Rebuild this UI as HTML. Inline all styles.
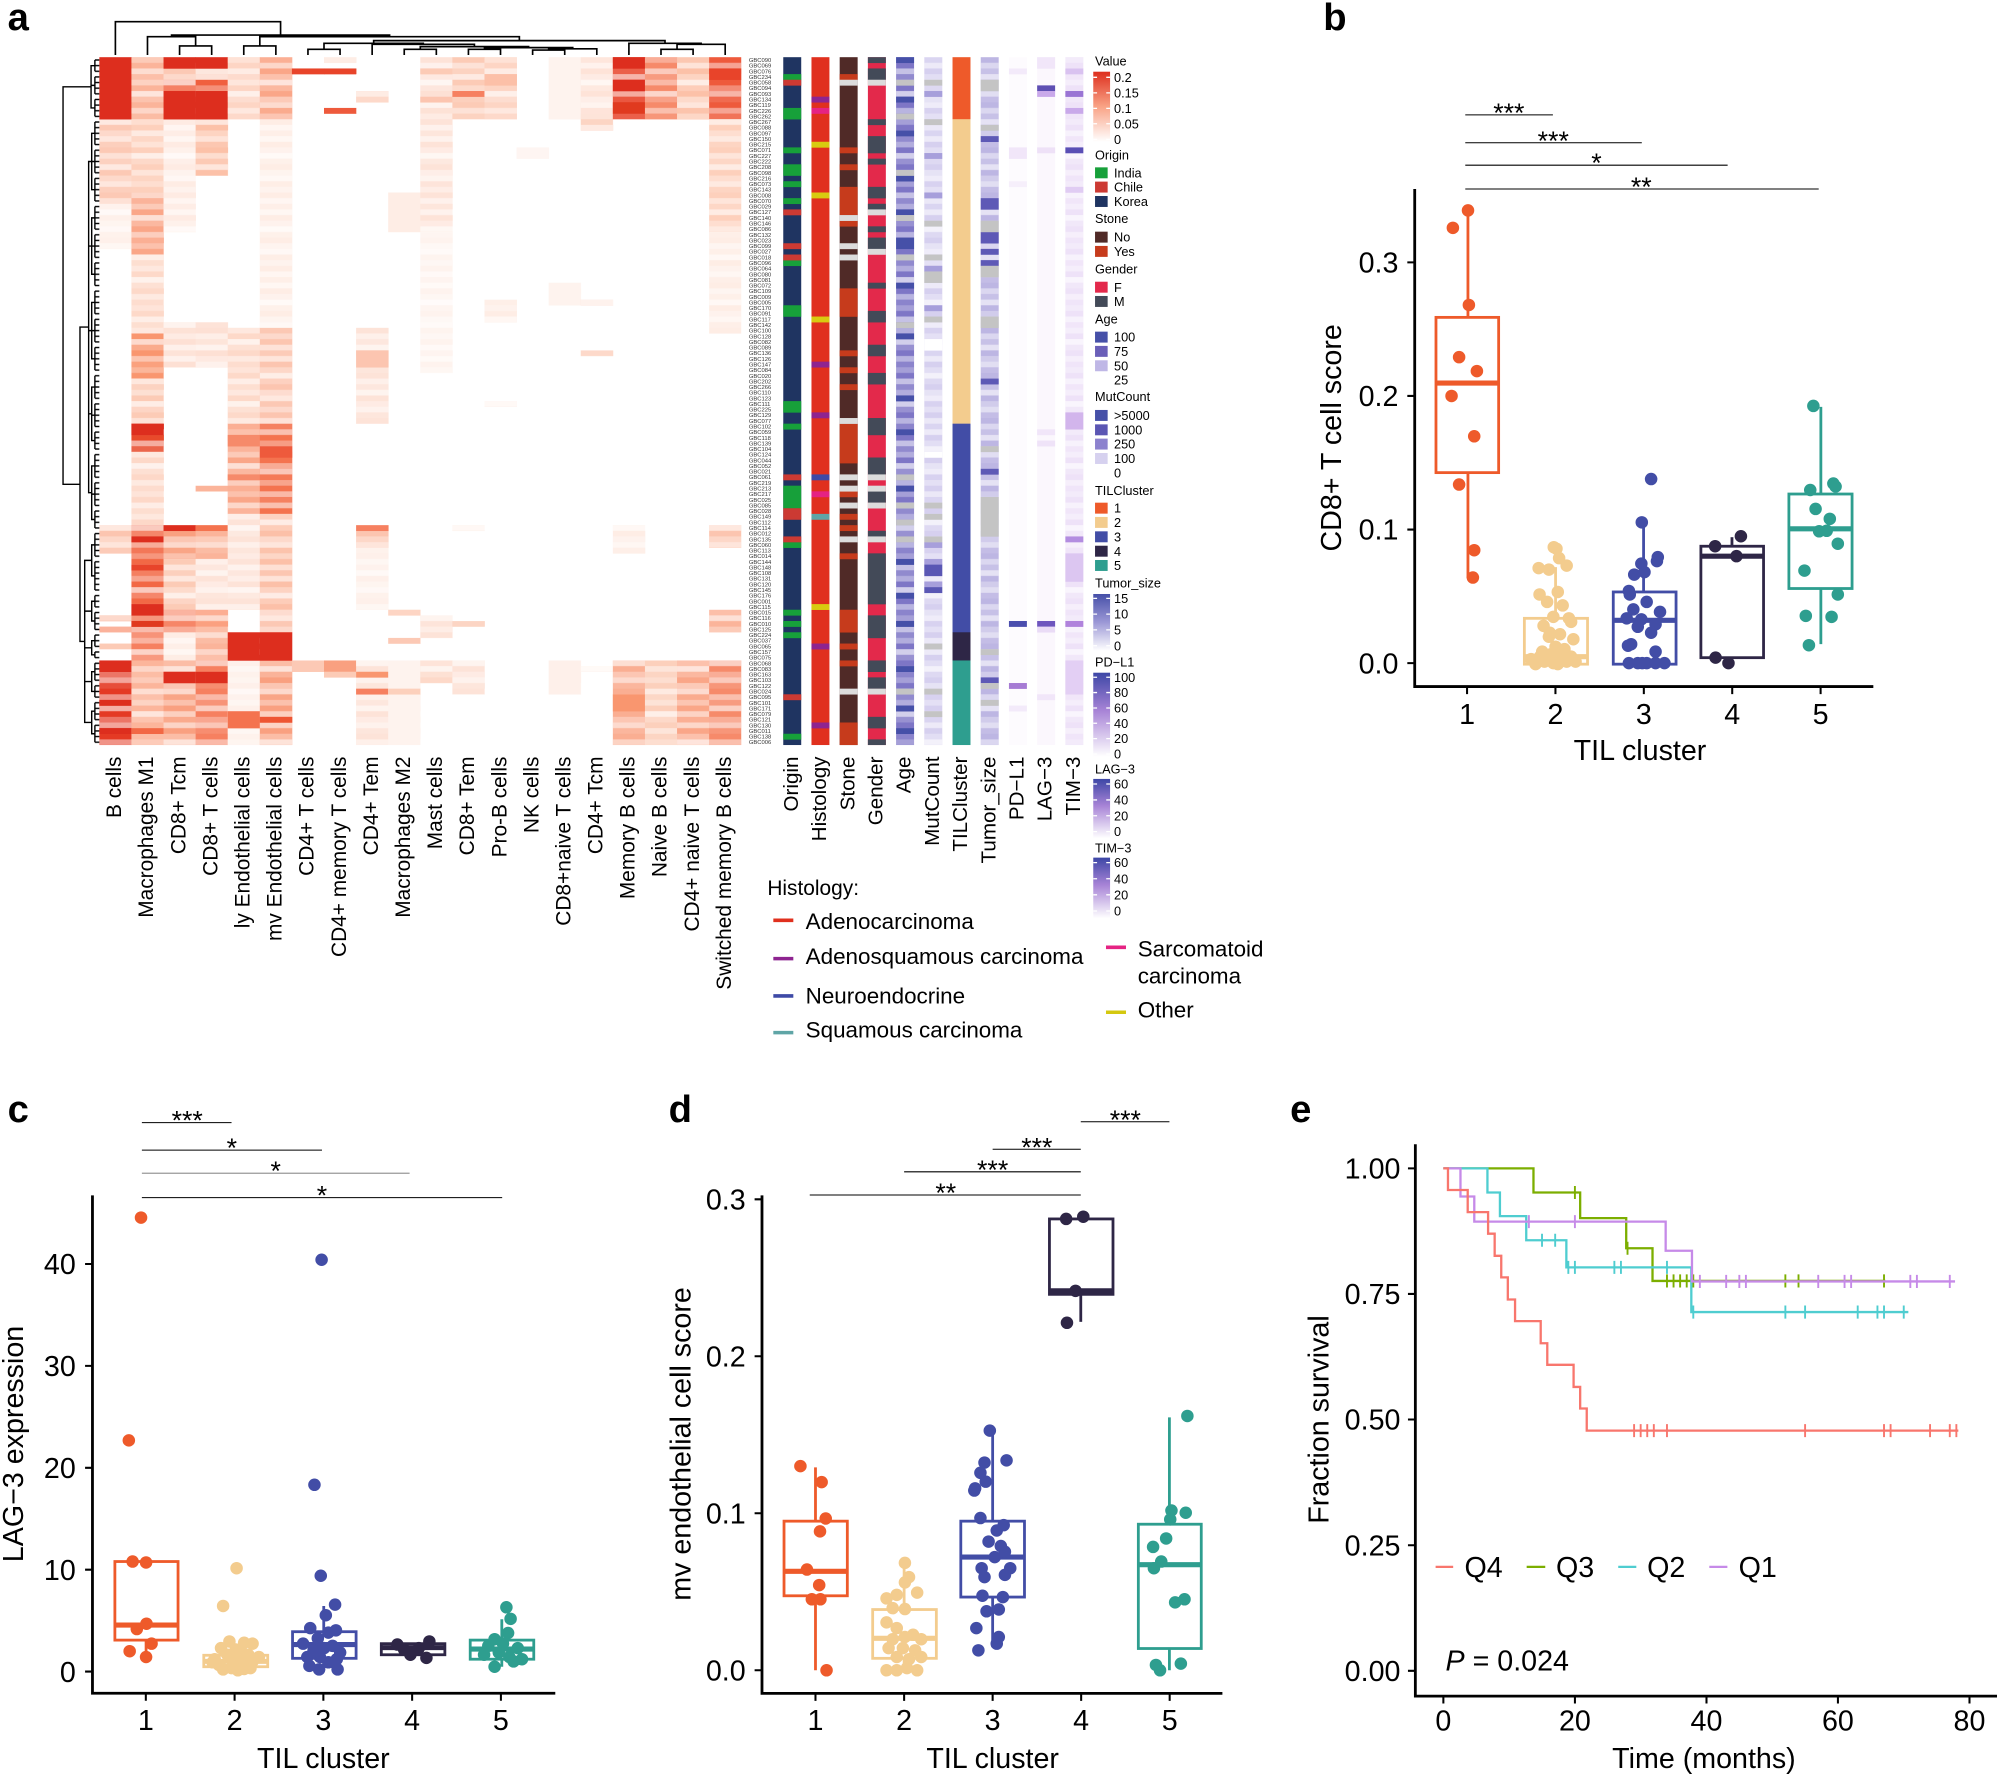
<!DOCTYPE html>
<html><head><meta charset="utf-8">
<style>
html,body{margin:0;padding:0;background:#fff;}
svg{display:block;}
svg text{font-family:"Liberation Sans",Arial,sans-serif;fill:#000;}
.pt{fill:none;stroke-linecap:round;stroke-width:12.5px;}
.km{fill:none;stroke-width:2.3px;}
.kc{fill:none;stroke-width:1.9px;}
</style></head>
<body>
<svg xmlns="http://www.w3.org/2000/svg" width="1997" height="1776" viewBox="0 0 1568 1394.5" preserveAspectRatio="none">
<defs>
<linearGradient id="gVal" x1="0" y1="1" x2="0" y2="0"><stop offset="0" stop-color="#ffffff"/><stop offset="0.5" stop-color="#F9A386"/><stop offset="1" stop-color="#DD2F1E"/></linearGradient>
<linearGradient id="gTum" x1="0" y1="1" x2="0" y2="0"><stop offset="0" stop-color="#ffffff"/><stop offset="0.5" stop-color="#9C98D6"/><stop offset="1" stop-color="#4650A8"/></linearGradient>
<linearGradient id="gPur" x1="0" y1="1" x2="0" y2="0"><stop offset="0" stop-color="#ffffff"/><stop offset="0.55" stop-color="#A783D6"/><stop offset="1" stop-color="#3D47A6"/></linearGradient>
<pattern id="tA" patternUnits="userSpaceOnUse" x="0" y="44.9" width="30" height="35.416">
<rect y="4.427" width="30" height="4.43" fill="#fff" fill-opacity="0.45"/><rect y="8.854" width="30" height="4.43" fill="#fff" fill-opacity="0.15"/><rect y="13.281" width="30" height="4.43" fill="#fff" fill-opacity="0.6"/><rect y="22.135" width="30" height="4.43" fill="#fff" fill-opacity="0.3"/><rect y="26.562" width="30" height="4.43" fill="#fff" fill-opacity="0.55"/><rect y="30.989" width="30" height="4.43" fill="#fff" fill-opacity="0.1"/>
</pattern>
<pattern id="tB" patternUnits="userSpaceOnUse" x="0" y="44.9" width="30" height="48.697">
<rect y="0" width="30" height="4.43" fill="#fff" fill-opacity="0.3"/><rect y="8.854" width="30" height="4.43" fill="#fff" fill-opacity="0.55"/><rect y="13.281" width="30" height="4.43" fill="#fff" fill-opacity="0.15"/><rect y="17.708" width="30" height="4.43" fill="#fff" fill-opacity="0.4"/><rect y="26.562" width="30" height="4.43" fill="#fff" fill-opacity="0.65"/><rect y="30.989" width="30" height="4.43" fill="#fff" fill-opacity="0.2"/><rect y="39.843" width="30" height="4.43" fill="#fff" fill-opacity="0.45"/><rect y="44.27" width="30" height="4.43" fill="#fff" fill-opacity="0.1"/>
</pattern>
<pattern id="tC" patternUnits="userSpaceOnUse" x="0" y="44.9" width="30" height="57.551">
<rect y="0" width="30" height="4.43" fill="#fff" fill-opacity="0.1"/><rect y="4.427" width="30" height="4.43" fill="#fff" fill-opacity="0.55"/><rect y="13.281" width="30" height="4.43" fill="#fff" fill-opacity="0.3"/><rect y="17.708" width="30" height="4.43" fill="#fff" fill-opacity="0.7"/><rect y="22.135" width="30" height="4.43" fill="#fff" fill-opacity="0.2"/><rect y="30.989" width="30" height="4.43" fill="#fff" fill-opacity="0.4"/><rect y="35.416" width="30" height="4.43" fill="#fff" fill-opacity="0.6"/><rect y="39.843" width="30" height="4.43" fill="#fff" fill-opacity="0.05"/><rect y="44.27" width="30" height="4.43" fill="#fff" fill-opacity="0.35"/><rect y="53.124" width="30" height="4.43" fill="#fff" fill-opacity="0.5"/>
</pattern>
<pattern id="leaf" patternUnits="userSpaceOnUse" x="0" y="44.9" width="10" height="4.427">
<rect x="0" y="1.66" width="10" height="1.1" fill="#000"/>
</pattern>
</defs>
<rect x="0" y="0" width="1568" height="1394.5" fill="#fff"/>

<!-- panel letters -->
<g font-size="30" font-weight="bold">
<text x="6" y="23.5">a</text>
<text x="1039" y="23.5">b</text>
<text x="6" y="881">c</text>
<text x="525" y="881">d</text>
<text x="1013" y="881">e</text>
</g>

<!-- column dendrogram -->
<g stroke="#000" stroke-width="1.3" fill="none">
<path d="M141,43.2V36.1H166.2V43.2 M115.8,43.2V28.8H153.6V36.1 M191.4,43.2V36.1H216.6V43.2 M241.8,43.2V38.7H267V43.2 M317.4,43.2V38.7H342.6V43.2 M367.8,43.2V38.7H393V43.2 M418.2,43.2V39.3H443.4V43.2 M430.8,39.3V38.3H468.6V43.2 M380.4,38.7V37.4H449.7V38.3 M330,38.7V36.6H415.05V37.4 M292.2,43.2V34.8H372.5V36.6 M254.4,38.7V34H332.35V34.8 M519,43.2V38.7H544.2V43.2 M531.6,38.7V34.8H569.4V43.2 M493.8,43.2V34H550.5V34.8 M293.4,34V31.9H522.15V34 M204,36.1V28.8H407.8V31.9 M134.7,28.8V27.5H305.9V28.8 M90.6,43.2V17H220.3V27.5"/>
</g>

<!-- ================= HEATMAP ================= -->
<g>
<g transform="translate(78,0)">
<rect y="93.6" width="25.5" height="66.61" fill="#FCC9B5"/>
<rect y="160" width="25.5" height="35.62" fill="#FEF0EA"/>
<rect y="412.34" width="25.5" height="22.34" fill="#FCC5B0"/>
<rect y="483.17" width="25.5" height="4.63" fill="#F9A080"/>
<rect y="492.03" width="25.5" height="4.63" fill="#F99070"/>
<rect y="505.31" width="25.5" height="4.63" fill="#FCCBB6"/>
<rect y="518.59" width="25.5" height="66.41" fill="#E43A24"/>
<rect y="44.9" width="25.5" height="540.1" fill="url(#tA)"/>
<rect y="44.9" width="25.5" height="48.9" fill="#DD2E1E"/>
<rect y="518.59" width="25.5" height="9.05" fill="#DD2E1E"/>
<rect y="549.58" width="25.5" height="4.63" fill="#DD2E1E"/>
<rect y="571.71" width="25.5" height="4.63" fill="#DD2E1E"/>
</g>
<g transform="translate(103.2,0)">
<rect y="44.9" width="25.5" height="48.9" fill="#FBB49A"/>
<rect y="93.6" width="25.5" height="57.75" fill="#FDD0BC"/>
<rect y="151.15" width="25.5" height="48.9" fill="#FAA688"/>
<rect y="199.85" width="25.5" height="62.18" fill="#FDD9C9"/>
<rect y="261.82" width="25.5" height="35.62" fill="#F9966F"/>
<rect y="297.24" width="25.5" height="35.62" fill="#FCCBB6"/>
<rect y="332.66" width="25.5" height="22.34" fill="#E84A2B"/>
<rect y="354.79" width="25.5" height="57.75" fill="#FDD8C8"/>
<rect y="412.34" width="25.5" height="84.31" fill="#F26845"/>
<rect y="496.45" width="25.5" height="22.34" fill="#F68060"/>
<rect y="518.59" width="25.5" height="66.41" fill="#FCB59B"/>
<rect y="44.9" width="25.5" height="540.1" fill="url(#tB)"/>
<rect y="332.66" width="25.5" height="9.05" fill="#DD2E1E"/>
<rect y="421.2" width="25.5" height="4.63" fill="#DD2E1E"/>
<rect y="443.33" width="25.5" height="4.63" fill="#E8442A"/>
<rect y="474.32" width="25.5" height="9.05" fill="#DD2E1E"/>
<rect y="487.6" width="25.5" height="4.63" fill="#E03A1F"/>
<rect y="571.71" width="25.5" height="4.63" fill="#F26845"/>
</g>
<g transform="translate(128.4,0)">
<rect y="53.75" width="25.5" height="9.05" fill="#FCC9B5"/>
<rect y="62.61" width="25.5" height="9.05" fill="#F2603F"/>
<rect y="93.6" width="25.5" height="88.74" fill="#FEEBE3"/>
<rect y="252.97" width="25.5" height="35.62" fill="#FDE0D4"/>
<rect y="416.77" width="25.5" height="22.34" fill="#F9A080"/>
<rect y="438.9" width="25.5" height="40.04" fill="#FCCBB6"/>
<rect y="478.75" width="25.5" height="17.91" fill="#F68060"/>
<rect y="496.45" width="25.5" height="22.34" fill="#FEEDE5"/>
<rect y="518.59" width="25.5" height="66.41" fill="#F9A080"/>
<rect y="44.9" width="25.5" height="540.1" fill="url(#tC)"/>
<rect y="44.9" width="25.5" height="9.05" fill="#DD2E1E"/>
<rect y="71.46" width="25.5" height="22.34" fill="#DD2E1E"/>
<rect y="412.34" width="25.5" height="4.63" fill="#DD2E1E"/>
<rect y="527.44" width="25.5" height="9.05" fill="#DD2E1E"/>
</g>
<g transform="translate(153.6,0)">
<rect y="53.75" width="25.5" height="4.63" fill="#FDE3D8"/>
<rect y="58.18" width="25.5" height="4.63" fill="#FBB49A"/>
<rect y="62.61" width="25.5" height="9.05" fill="#F0603F"/>
<rect y="93.6" width="25.5" height="44.47" fill="#FCC1A8"/>
<rect y="252.97" width="25.5" height="35.62" fill="#FDE0D4"/>
<rect y="381.35" width="25.5" height="4.63" fill="#FBB49A"/>
<rect y="416.77" width="25.5" height="22.34" fill="#FBB49A"/>
<rect y="438.9" width="25.5" height="40.04" fill="#FDE3D8"/>
<rect y="478.75" width="25.5" height="17.91" fill="#FBA080"/>
<rect y="496.45" width="25.5" height="22.34" fill="#FBB49A"/>
<rect y="518.59" width="25.5" height="66.41" fill="#F68060"/>
<rect y="44.9" width="25.5" height="540.1" fill="url(#tA)"/>
<rect y="44.9" width="25.5" height="9.05" fill="#DD2E1E"/>
<rect y="71.46" width="25.5" height="22.34" fill="#DD2E1E"/>
<rect y="412.34" width="25.5" height="4.63" fill="#F4734F"/>
<rect y="527.44" width="25.5" height="9.05" fill="#DD2E1E"/>
</g>
<g transform="translate(178.8,0)">
<rect y="44.9" width="25.5" height="48.9" fill="#FDD5C4"/>
<rect y="257.4" width="25.5" height="75.46" fill="#FDD9C9"/>
<rect y="332.66" width="25.5" height="71.03" fill="#FAA688"/>
<rect y="403.49" width="25.5" height="75.46" fill="#FDE3D8"/>
<rect y="518.59" width="25.5" height="66.41" fill="#FEF0EA"/>
<rect y="44.9" width="25.5" height="540.1" fill="url(#tB)"/>
<rect y="496.45" width="25.5" height="22.34" fill="#DD2E1E"/>
<rect y="341.51" width="25.5" height="9.05" fill="#F68A6A"/>
<rect y="372.5" width="25.5" height="4.63" fill="#F68A6A"/>
<rect y="558.43" width="25.5" height="13.48" fill="#F4734F"/>
</g>
<g transform="translate(204,0)">
<rect y="44.9" width="25.5" height="48.9" fill="#FAA688"/>
<rect y="93.6" width="25.5" height="164" fill="#FEEDE5"/>
<rect y="257.4" width="25.5" height="75.46" fill="#FCC5B0"/>
<rect y="332.66" width="25.5" height="71.03" fill="#F4734F"/>
<rect y="403.49" width="25.5" height="75.46" fill="#FCC0A8"/>
<rect y="478.75" width="25.5" height="17.91" fill="#FCC5B0"/>
<rect y="518.59" width="25.5" height="66.41" fill="#F9A080"/>
<rect y="44.9" width="25.5" height="540.1" fill="url(#tC)"/>
<rect y="496.45" width="25.5" height="22.34" fill="#DD2E1E"/>
<rect y="350.36" width="25.5" height="9.05" fill="#EE5A3C"/>
<rect y="562.86" width="25.5" height="4.63" fill="#EE5533"/>
</g>
<g transform="translate(229.2,0)">
<rect y="53.75" width="25.5" height="4.63" fill="#E8442A"/>
<rect y="518.59" width="25.5" height="9.05" fill="#FCC9B5"/>
</g>
<g transform="translate(254.4,0)">
<rect y="44.9" width="25.5" height="4.63" fill="#FEEDE5"/>
<rect y="53.75" width="25.5" height="4.63" fill="#E8442A"/>
<rect y="84.74" width="25.5" height="4.63" fill="#EE5A3C"/>
<rect y="518.59" width="25.5" height="9.05" fill="#F9A080"/>
<rect y="527.44" width="25.5" height="4.63" fill="#FCCBB6"/>
</g>
<g transform="translate(279.6,0)">
<rect y="71.46" width="25.5" height="9.05" fill="#FDD5C4"/>
<rect y="257.4" width="25.5" height="75.46" fill="#FDE3D8"/>
<rect y="416.77" width="25.5" height="13.48" fill="#FCC5B0"/>
<rect y="430.05" width="25.5" height="48.9" fill="#FEF0EA"/>
<rect y="518.59" width="25.5" height="66.41" fill="#FDE3D8"/>
<rect y="44.9" width="25.5" height="540.1" fill="url(#tA)"/>
<rect y="275.1" width="25.5" height="13.48" fill="#FCC5B0"/>
<rect y="412.34" width="25.5" height="4.63" fill="#F68060"/>
<rect y="527.44" width="25.5" height="4.63" fill="#F9966F"/>
<rect y="540.72" width="25.5" height="4.63" fill="#F68060"/>
</g>
<g transform="translate(304.8,0)">
<rect y="151.15" width="25.5" height="31.19" fill="#FEEDE5"/>
<rect y="478.75" width="25.5" height="4.63" fill="#FDD5C4"/>
<rect y="500.88" width="25.5" height="4.63" fill="#FCC9B5"/>
<rect y="518.59" width="25.5" height="66.41" fill="#FEF3EE"/>
<rect y="540.72" width="25.5" height="4.63" fill="#FCD0BC"/>
</g>
<g transform="translate(330,0)">
<rect y="44.9" width="25.5" height="48.9" fill="#FDE0D4"/>
<rect y="93.6" width="25.5" height="88.74" fill="#FDE3D8"/>
<rect y="182.14" width="25.5" height="110.88" fill="#FEF3EE"/>
<rect y="483.17" width="25.5" height="17.91" fill="#FDE3D8"/>
<rect y="518.59" width="25.5" height="17.91" fill="#FDD9C9"/>
<rect y="44.9" width="25.5" height="540.1" fill="url(#tC)"/>
<rect y="53.75" width="25.5" height="4.63" fill="#FCCBB6"/>
<rect y="75.89" width="25.5" height="4.63" fill="#FCC5B0"/>
</g>
<g transform="translate(355.2,0)">
<rect y="44.9" width="25.5" height="48.9" fill="#FCCBB6"/>
<rect y="412.34" width="25.5" height="4.63" fill="#FEEDE5"/>
<rect y="487.6" width="25.5" height="4.63" fill="#FCD5C4"/>
<rect y="518.59" width="25.5" height="26.76" fill="#FDE3D8"/>
<rect y="44.9" width="25.5" height="540.1" fill="url(#tA)"/>
<rect y="71.46" width="25.5" height="4.63" fill="#F68060"/>
</g>
<g transform="translate(380.4,0)">
<rect y="44.9" width="25.5" height="48.9" fill="#FDD5C4"/>
<rect y="235.26" width="25.5" height="17.91" fill="#FEEDE5"/>
<rect y="314.95" width="25.5" height="4.63" fill="#FEEDE5"/>
<rect y="44.9" width="25.5" height="540.1" fill="url(#tB)"/>
<rect y="58.18" width="25.5" height="9.05" fill="#FCC0A8"/>
</g>
<g transform="translate(405.6,0)">
<rect y="115.73" width="25.5" height="9.05" fill="#FEF5F2"/>
</g>
<g transform="translate(430.8,0)">
<rect y="44.9" width="25.5" height="48.9" fill="#FEF3EE"/>
<rect y="221.98" width="25.5" height="17.91" fill="#FEF3EE"/>
<rect y="518.59" width="25.5" height="26.76" fill="#FEF0EA"/>
</g>
<g transform="translate(456,0)">
<rect y="44.9" width="25.5" height="44.47" fill="#FEE3D8"/>
<rect y="89.17" width="25.5" height="13.48" fill="#FCD5C4"/>
<rect y="235.26" width="25.5" height="4.63" fill="#FDD5C4"/>
<rect y="275.1" width="25.5" height="4.63" fill="#FDD5C4"/>
<rect y="523.02" width="25.5" height="4.63" fill="#FEEDE5"/>
<rect y="44.9" width="25.5" height="540.1" fill="url(#tC)"/>
</g>
<g transform="translate(481.2,0)">
<rect y="44.9" width="25.5" height="48.9" fill="#E8442A"/>
<rect y="412.34" width="25.5" height="22.34" fill="#FEEDE5"/>
<rect y="518.59" width="25.5" height="66.41" fill="#FAAE92"/>
<rect y="44.9" width="25.5" height="540.1" fill="url(#tA)"/>
<rect y="44.9" width="25.5" height="9.05" fill="#DD2E1E"/>
<rect y="62.61" width="25.5" height="9.05" fill="#DD2E1E"/>
<rect y="80.32" width="25.5" height="9.05" fill="#E03A1F"/>
<rect y="545.15" width="25.5" height="13.48" fill="#F9966F"/>
</g>
<g transform="translate(506.4,0)">
<rect y="44.9" width="25.5" height="48.9" fill="#F68A6A"/>
<rect y="518.59" width="25.5" height="66.41" fill="#FCD0BC"/>
<rect y="44.9" width="25.5" height="540.1" fill="url(#tB)"/>
</g>
<g transform="translate(531.6,0)">
<rect y="44.9" width="25.5" height="48.9" fill="#FCC1A8"/>
<rect y="518.59" width="25.5" height="66.41" fill="#FAA688"/>
<rect y="44.9" width="25.5" height="540.1" fill="url(#tC)"/>
</g>
<g transform="translate(556.8,0)">
<rect y="44.9" width="25.2" height="48.9" fill="#EE5A3C"/>
<rect y="93.6" width="25.2" height="88.74" fill="#FDD0BC"/>
<rect y="182.14" width="25.2" height="79.89" fill="#FEEDE5"/>
<rect y="412.34" width="25.2" height="17.91" fill="#FCC5B0"/>
<rect y="478.75" width="25.2" height="17.91" fill="#FBB49A"/>
<rect y="518.59" width="25.2" height="66.41" fill="#F68A6A"/>
<rect y="44.9" width="25.2" height="540.1" fill="url(#tA)"/>
<rect y="53.75" width="25.2" height="9.05" fill="#E8442A"/>
</g>
</g>

<!-- row dendrogram -->
<rect x="74.5" y="44.9" width="3.5" height="540.1" fill="url(#leaf)"/>
<g stroke="#000" stroke-width="1.1" fill="none">
<path d="M74.5,47.11V55.97M74.5,60.39V73.67M74.5,78.1V91.38M74.5,95.81V113.52M74.5,117.94V135.65M74.5,140.08V157.79M74.5,162.21V179.92M74.5,184.35V202.06M74.5,206.48V224.19M74.5,228.62V246.33M74.5,250.75V268.46M74.5,272.89V290.6M74.5,295.02V312.73M74.5,317.16V334.87M74.5,339.29V352.57M74.5,357V374.71M74.5,379.13V396.84M74.5,401.27V414.55M74.5,418.98V436.69M74.5,441.11V463.25M74.5,467.68V476.53M74.5,480.96V494.24M74.5,498.66V507.52M74.5,511.95V516.37M74.5,520.8V534.08M74.5,538.51V547.36M74.5,551.79V565.07M74.5,569.5V582.78"/>
<path d="M74.5,51.54H71.5V84.74H74.5M71.5,67.03H74.5"/>
<path d="M74.5,104.67H72V148.94H74.5M72,126.8H74.5 M74.5,171.07H72V215.34H74.5M72,193.2H74.5 M74.5,237.48H72V281.75H74.5M72,259.61H74.5 M74.5,303.88H72V345.93H74.5M72,326.02H74.5 M74.5,365.86H72V407.91H74.5M72,387.99H74.5"/>
<path d="M72,126.8H69.6V386.88H72M69.6,193.2H72M69.6,259.61H72M69.6,324.9H72"/>
<path d="M74.5,427.83H72V452.18H74.5 M74.5,472.1H72V487.6H74.5 M74.5,503.09H72V514.16H74.5 M74.5,527.44H72V542.93H74.5 M74.5,558.43H72V576.14H74.5"/>
<path d="M72,440H66.5V567.28H72M66.5,479.85H72M66.5,508.63H72M66.5,535.19H72"/>
<path d="M69.6,256.84H62.8V503.64H66.5"/>
<path d="M71.5,68.14H49.5V380.24H62.8"/>
</g>

<!-- ================= ANNOTATIONS ================= -->
<g transform="translate(615,0)">
<rect y="44.9" width="14.1" height="540.1" fill="#1F3461"/>
<g fill="#17A03A">
<rect y="58.18" width="14.1" height="4.63"/><rect y="84.74" width="14.1" height="9.05"/><rect y="115.73" width="14.1" height="4.63"/><rect y="129.01" width="14.1" height="9.05"/><rect y="142.29" width="14.1" height="4.63"/><rect y="155.58" width="14.1" height="4.63"/><rect y="204.27" width="14.1" height="4.63"/><rect y="239.69" width="14.1" height="9.05"/><rect y="314.95" width="14.1" height="9.05"/><rect y="332.66" width="14.1" height="4.63"/><rect y="381.35" width="14.1" height="17.91"/><rect y="425.62" width="14.1" height="4.63"/><rect y="478.75" width="14.1" height="4.63"/><rect y="487.6" width="14.1" height="4.63"/><rect y="496.45" width="14.1" height="4.63"/><rect y="576.14" width="14.1" height="4.63"/>
</g>
<g fill="#CC3A33">
<rect y="62.61" width="14.1" height="4.63"/><rect y="164.43" width="14.1" height="4.63"/><rect y="190.99" width="14.1" height="4.63"/><rect y="199.85" width="14.1" height="4.63"/><rect y="372.5" width="14.1" height="4.63"/><rect y="399.06" width="14.1" height="4.63"/><rect y="403.49" width="14.1" height="4.63"/><rect y="421.2" width="14.1" height="4.63"/><rect y="545.15" width="14.1" height="4.63"/>
</g>
</g>
<g transform="translate(637.15,0)">
<rect y="44.9" width="14.1" height="540.1" fill="#E0301E"/>
<g fill="#8E2490"><rect y="75.89" width="14.1" height="4.63"/><rect y="283.96" width="14.1" height="4.63"/><rect y="323.8" width="14.1" height="4.63"/><rect y="505.31" width="14.1" height="4.63"/><rect y="567.29" width="14.1" height="4.63"/></g>
<g fill="#D8CB10"><rect y="111.31" width="14.1" height="4.63"/><rect y="151.15" width="14.1" height="4.63"/><rect y="248.54" width="14.1" height="4.63"/><rect y="474.32" width="14.1" height="4.63"/></g>
<g fill="#E52383"><rect y="84.74" width="14.1" height="4.63"/><rect y="385.78" width="14.1" height="4.63"/></g>
<rect y="372.5" width="14.1" height="4.63" fill="#3E4AA6"/>
<rect y="403.49" width="14.1" height="4.63" fill="#5FA5A6"/>
</g>
<g transform="translate(659.3,0)">
<rect y="44.9" width="14.1" height="540.1" fill="#502A27"/>
<g fill="#C63B1C">
<rect y="58.18" width="14.1" height="4.63"/><rect y="115.73" width="14.1" height="4.63"/><rect y="129.01" width="14.1" height="4.63"/><rect y="146.72" width="14.1" height="22.34"/><rect y="173.28" width="14.1" height="4.63"/><rect y="226.41" width="14.1" height="22.34"/><rect y="275.1" width="14.1" height="4.63"/><rect y="288.39" width="14.1" height="4.63"/><rect y="301.67" width="14.1" height="4.63"/><rect y="332.66" width="14.1" height="31.19"/><rect y="385.78" width="14.1" height="4.63"/><rect y="403.49" width="14.1" height="4.63"/><rect y="412.34" width="14.1" height="4.63"/><rect y="434.48" width="14.1" height="4.63"/><rect y="478.75" width="14.1" height="17.91"/><rect y="505.31" width="14.1" height="4.63"/><rect y="518.59" width="14.1" height="4.63"/><rect y="567.29" width="14.1" height="17.71"/>
</g>
<g fill="#DCDCDC">
<rect y="62.61" width="14.1" height="4.63"/><rect y="168.86" width="14.1" height="4.63"/><rect y="190.99" width="14.1" height="4.63"/><rect y="199.85" width="14.1" height="4.63"/><rect y="328.23" width="14.1" height="4.63"/><rect y="372.5" width="14.1" height="4.63"/><rect y="381.35" width="14.1" height="4.63"/><rect y="394.63" width="14.1" height="4.63"/><rect y="421.2" width="14.1" height="4.63"/><rect y="540.72" width="14.1" height="4.63"/>
</g>
</g>
<g transform="translate(681.45,0)">
<rect y="44.9" width="14.1" height="540.1" fill="#E3294B"/>
<g fill="#434A58">
<rect y="44.9" width="14.1" height="4.63"/><rect y="53.75" width="14.1" height="9.05"/><rect y="93.6" width="14.1" height="4.63"/><rect y="106.88" width="14.1" height="13.48"/><rect y="124.59" width="14.1" height="4.63"/><rect y="146.72" width="14.1" height="9.05"/><rect y="160" width="14.1" height="4.63"/><rect y="177.71" width="14.1" height="4.63"/><rect y="186.56" width="14.1" height="9.05"/><rect y="221.98" width="14.1" height="4.63"/><rect y="244.12" width="14.1" height="9.05"/><rect y="270.68" width="14.1" height="9.05"/><rect y="292.81" width="14.1" height="9.05"/><rect y="328.23" width="14.1" height="13.48"/><rect y="359.22" width="14.1" height="13.48"/><rect y="385.78" width="14.1" height="9.05"/><rect y="416.77" width="14.1" height="4.63"/><rect y="434.48" width="14.1" height="40.04"/><rect y="483.17" width="14.1" height="17.91"/><rect y="518.59" width="14.1" height="9.05"/><rect y="531.87" width="14.1" height="9.05"/><rect y="562.86" width="14.1" height="9.05"/><rect y="580.57" width="14.1" height="4.43"/>
</g>
<g fill="#DCDCDC">
<rect y="62.61" width="14.1" height="4.63"/><rect y="164.43" width="14.1" height="4.63"/><rect y="195.42" width="14.1" height="4.63"/><rect y="372.5" width="14.1" height="4.63"/><rect y="381.35" width="14.1" height="4.63"/><rect y="394.63" width="14.1" height="4.63"/><rect y="421.2" width="14.1" height="4.63"/><rect y="540.72" width="14.1" height="4.63"/>
</g>
</g>
<g transform="translate(703.6,0)">
<rect y="44.9" width="14.1" height="540.1" fill="#7E76C6"/>
<rect y="44.9" width="14.1" height="540.1" fill="url(#tB)"/>
<g fill="#4650A8">
<rect y="44.9" width="14.1" height="4.63"/><rect y="75.89" width="14.1" height="4.63"/><rect y="102.45" width="14.1" height="4.63"/><rect y="137.87" width="14.1" height="4.63"/><rect y="164.43" width="14.1" height="4.63"/><rect y="186.56" width="14.1" height="9.05"/><rect y="221.98" width="14.1" height="4.63"/><rect y="261.82" width="14.1" height="4.63"/><rect y="310.52" width="14.1" height="4.63"/><rect y="337.08" width="14.1" height="4.63"/><rect y="381.35" width="14.1" height="4.63"/><rect y="438.9" width="14.1" height="4.63"/><rect y="465.47" width="14.1" height="4.63"/><rect y="487.6" width="14.1" height="4.63"/><rect y="523.02" width="14.1" height="4.63"/><rect y="554.01" width="14.1" height="4.63"/><rect y="571.71" width="14.1" height="4.63"/>
</g>
<g fill="#C4C4C4">
<rect y="62.61" width="14.1" height="4.63"/><rect y="89.17" width="14.1" height="4.63"/><rect y="133.44" width="14.1" height="4.63"/><rect y="168.86" width="14.1" height="4.63"/><rect y="199.85" width="14.1" height="4.63"/><rect y="252.97" width="14.1" height="4.63"/><rect y="372.5" width="14.1" height="4.63"/><rect y="394.63" width="14.1" height="4.63"/><rect y="407.91" width="14.1" height="4.63"/><rect y="421.2" width="14.1" height="4.63"/><rect y="540.72" width="14.1" height="4.63"/>
</g>
</g>
<g transform="translate(725.75,0)">
<rect y="44.9" width="14.1" height="540.1" fill="#D6D0EF"/>
<rect y="44.9" width="14.1" height="540.1" fill="url(#tC)"/>
<g fill="#A79FDB">
<rect y="71.46" width="14.1" height="4.63"/><rect y="120.16" width="14.1" height="4.63"/><rect y="151.15" width="14.1" height="4.63"/><rect y="208.7" width="14.1" height="4.63"/><rect y="239.69" width="14.1" height="4.63"/><rect y="425.62" width="14.1" height="4.63"/><rect y="438.9" width="14.1" height="4.63"/><rect y="456.61" width="14.1" height="4.63"/>
</g>
<g fill="#5A57B4">
<rect y="443.33" width="14.1" height="9.05"/><rect y="461.04" width="14.1" height="4.63"/>
</g>
<g fill="#C4C4C4">
<rect y="62.61" width="14.1" height="4.63"/><rect y="93.6" width="14.1" height="4.63"/><rect y="173.28" width="14.1" height="4.63"/><rect y="199.85" width="14.1" height="4.63"/><rect y="213.13" width="14.1" height="9.05"/><rect y="248.54" width="14.1" height="4.63"/><rect y="394.63" width="14.1" height="4.63"/><rect y="403.49" width="14.1" height="4.63"/><rect y="421.2" width="14.1" height="4.63"/><rect y="505.31" width="14.1" height="4.63"/><rect y="540.72" width="14.1" height="4.63"/><rect y="558.43" width="14.1" height="4.63"/>
</g>
<g fill="#FFFFFF">
<rect y="266.25" width="14.1" height="9.05"/><rect y="354.79" width="14.1" height="4.63"/>
</g>
</g>
<g transform="translate(747.9,0)">
<rect y="44.9" width="14.1" height="48.9" fill="#EE5A2A"/>
<rect y="93.6" width="14.1" height="239.26" fill="#F3CC8E"/>
<rect y="332.66" width="14.1" height="164" fill="#424DA6"/>
<rect y="496.45" width="14.1" height="22.34" fill="#2E2646"/>
<rect y="518.59" width="14.1" height="66.41" fill="#2E9E8F"/>
</g>
<g transform="translate(770.05,0)">
<rect y="44.9" width="14.1" height="540.1" fill="#BDB6E3"/>
<rect y="44.9" width="14.1" height="540.1" fill="url(#tA)"/>
<g fill="#5E59B6">
<rect y="106.88" width="14.1" height="4.63"/><rect y="155.58" width="14.1" height="9.05"/><rect y="182.14" width="14.1" height="9.05"/><rect y="195.42" width="14.1" height="4.63"/><rect y="204.27" width="14.1" height="4.63"/><rect y="297.24" width="14.1" height="4.63"/><rect y="368.07" width="14.1" height="4.63"/><rect y="531.87" width="14.1" height="4.63"/>
</g>
<g fill="#C4C4C4">
<rect y="62.61" width="14.1" height="9.05"/><rect y="98.02" width="14.1" height="4.63"/><rect y="173.28" width="14.1" height="9.05"/><rect y="208.7" width="14.1" height="9.05"/><rect y="248.54" width="14.1" height="9.05"/><rect y="350.36" width="14.1" height="4.63"/><rect y="390.21" width="14.1" height="31.19"/><rect y="509.74" width="14.1" height="4.63"/><rect y="536.3" width="14.1" height="4.63"/><rect y="549.58" width="14.1" height="4.63"/>
</g>
</g>
<g transform="translate(792.2,0)">
<rect y="44.9" width="14.1" height="540.1" fill="#FDFBFE"/>
<rect y="53.75" width="14.1" height="4.63" fill="#F3EAFA"/>
<rect y="115.73" width="14.1" height="9.05" fill="#F1E6F9"/>
<rect y="142.29" width="14.1" height="4.63" fill="#F6EFFB"/>
<rect y="487.6" width="14.1" height="4.63" fill="#4B4EAE"/>
<rect y="536.3" width="14.1" height="4.63" fill="#A67BD4"/>
<rect y="554.01" width="14.1" height="4.63" fill="#F3EAFA"/>
</g>
<g transform="translate(814.35,0)">
<rect y="44.9" width="14.1" height="540.1" fill="#FBF7FD"/>
<rect y="44.9" width="14.1" height="9.05" fill="#F1E6F9"/>
<rect y="67.04" width="14.1" height="4.63" fill="#5E4FB3"/>
<rect y="71.46" width="14.1" height="4.63" fill="#C9A9EA"/>
<rect y="115.73" width="14.1" height="4.63" fill="#EEE1F7"/>
<rect y="337.08" width="14.1" height="4.63" fill="#F1E6F9"/>
<rect y="345.94" width="14.1" height="4.63" fill="#EFE3F8"/>
<rect y="487.6" width="14.1" height="4.63" fill="#6E56BE"/>
<rect y="492.03" width="14.1" height="4.63" fill="#EADCF6"/>
<rect y="545.15" width="14.1" height="4.63" fill="#F1E6F9"/>
</g>
<g transform="translate(836.5,0)">
<rect y="44.9" width="14.1" height="540.1" fill="#EEE2F8"/>
<rect y="44.9" width="14.1" height="540.1" fill="url(#tB)"/>
<rect y="53.75" width="14.1" height="4.63" fill="#D9C2F0"/>
<rect y="71.46" width="14.1" height="4.63" fill="#9A75D4"/>
<rect y="84.74" width="14.1" height="4.63" fill="#C9A9EA"/>
<rect y="115.73" width="14.1" height="4.63" fill="#5A4FB5"/>
<rect y="146.72" width="14.1" height="4.63" fill="#E0CCF3"/>
<rect y="323.8" width="14.1" height="13.48" fill="#D2B5EC"/>
<rect y="421.2" width="14.1" height="4.63" fill="#B38DE0"/>
<rect y="434.48" width="14.1" height="22.34" fill="#DCC6F1"/>
<rect y="487.6" width="14.1" height="4.63" fill="#B083DC"/>
<rect y="518.59" width="14.1" height="26.76" fill="#E3CFF4"/>
</g>

<!-- row labels -->
<text x="588" y="44.28" font-size="4.6" style="fill:#333"><tspan x="588" dy="4.427">GBC090</tspan><tspan x="588" dy="4.427">GBC069</tspan><tspan x="588" dy="4.427">GBC076</tspan><tspan x="588" dy="4.427">GBC234</tspan><tspan x="588" dy="4.427">GBC058</tspan><tspan x="588" dy="4.427">GBC094</tspan><tspan x="588" dy="4.427">GBC093</tspan><tspan x="588" dy="4.427">GBC134</tspan><tspan x="588" dy="4.427">GBC119</tspan><tspan x="588" dy="4.427">GBC226</tspan><tspan x="588" dy="4.427">GBC262</tspan><tspan x="588" dy="4.427">GBC267</tspan><tspan x="588" dy="4.427">GBC088</tspan><tspan x="588" dy="4.427">GBC097</tspan><tspan x="588" dy="4.427">GBC150</tspan><tspan x="588" dy="4.427">GBC215</tspan><tspan x="588" dy="4.427">GBC071</tspan><tspan x="588" dy="4.427">GBC227</tspan><tspan x="588" dy="4.427">GBC222</tspan><tspan x="588" dy="4.427">GBC208</tspan><tspan x="588" dy="4.427">GBC098</tspan><tspan x="588" dy="4.427">GBC216</tspan><tspan x="588" dy="4.427">GBC073</tspan><tspan x="588" dy="4.427">GBC143</tspan><tspan x="588" dy="4.427">GBC008</tspan><tspan x="588" dy="4.427">GBC070</tspan><tspan x="588" dy="4.427">GBC029</tspan><tspan x="588" dy="4.427">GBC127</tspan><tspan x="588" dy="4.427">GBC140</tspan><tspan x="588" dy="4.427">GBC146</tspan><tspan x="588" dy="4.427">GBC086</tspan><tspan x="588" dy="4.427">GBC132</tspan><tspan x="588" dy="4.427">GBC023</tspan><tspan x="588" dy="4.427">GBC099</tspan><tspan x="588" dy="4.427">GBC027</tspan><tspan x="588" dy="4.427">GBC018</tspan><tspan x="588" dy="4.427">GBC096</tspan><tspan x="588" dy="4.427">GBC064</tspan><tspan x="588" dy="4.427">GBC080</tspan><tspan x="588" dy="4.427">GBC081</tspan><tspan x="588" dy="4.427">GBC072</tspan><tspan x="588" dy="4.427">GBC109</tspan><tspan x="588" dy="4.427">GBC009</tspan><tspan x="588" dy="4.427">GBC005</tspan><tspan x="588" dy="4.427">GBC170</tspan><tspan x="588" dy="4.427">GBC091</tspan><tspan x="588" dy="4.427">GBC117</tspan><tspan x="588" dy="4.427">GBC142</tspan><tspan x="588" dy="4.427">GBC100</tspan><tspan x="588" dy="4.427">GBC128</tspan><tspan x="588" dy="4.427">GBC082</tspan><tspan x="588" dy="4.427">GBC089</tspan><tspan x="588" dy="4.427">GBC136</tspan><tspan x="588" dy="4.427">GBC126</tspan><tspan x="588" dy="4.427">GBC147</tspan><tspan x="588" dy="4.427">GBC084</tspan><tspan x="588" dy="4.427">GBC020</tspan><tspan x="588" dy="4.427">GBC202</tspan><tspan x="588" dy="4.427">GBC266</tspan><tspan x="588" dy="4.427">GBC110</tspan><tspan x="588" dy="4.427">GBC123</tspan><tspan x="588" dy="4.427">GBC111</tspan><tspan x="588" dy="4.427">GBC225</tspan><tspan x="588" dy="4.427">GBC129</tspan><tspan x="588" dy="4.427">GBC077</tspan><tspan x="588" dy="4.427">GBC102</tspan><tspan x="588" dy="4.427">GBC059</tspan><tspan x="588" dy="4.427">GBC118</tspan><tspan x="588" dy="4.427">GBC139</tspan><tspan x="588" dy="4.427">GBC104</tspan><tspan x="588" dy="4.427">GBC124</tspan><tspan x="588" dy="4.427">GBC044</tspan><tspan x="588" dy="4.427">GBC052</tspan><tspan x="588" dy="4.427">GBC021</tspan><tspan x="588" dy="4.427">GBC061</tspan><tspan x="588" dy="4.427">GBC219</tspan><tspan x="588" dy="4.427">GBC213</tspan><tspan x="588" dy="4.427">GBC217</tspan><tspan x="588" dy="4.427">GBC025</tspan><tspan x="588" dy="4.427">GBC085</tspan><tspan x="588" dy="4.427">GBC028</tspan><tspan x="588" dy="4.427">GBC149</tspan><tspan x="588" dy="4.427">GBC112</tspan><tspan x="588" dy="4.427">GBC114</tspan><tspan x="588" dy="4.427">GBC012</tspan><tspan x="588" dy="4.427">GBC135</tspan><tspan x="588" dy="4.427">GBC060</tspan><tspan x="588" dy="4.427">GBC113</tspan><tspan x="588" dy="4.427">GBC014</tspan><tspan x="588" dy="4.427">GBC144</tspan><tspan x="588" dy="4.427">GBC148</tspan><tspan x="588" dy="4.427">GBC108</tspan><tspan x="588" dy="4.427">GBC131</tspan><tspan x="588" dy="4.427">GBC120</tspan><tspan x="588" dy="4.427">GBC145</tspan><tspan x="588" dy="4.427">GBC176</tspan><tspan x="588" dy="4.427">GBC001</tspan><tspan x="588" dy="4.427">GBC115</tspan><tspan x="588" dy="4.427">GBC015</tspan><tspan x="588" dy="4.427">GBC116</tspan><tspan x="588" dy="4.427">GBC010</tspan><tspan x="588" dy="4.427">GBC125</tspan><tspan x="588" dy="4.427">GBC224</tspan><tspan x="588" dy="4.427">GBC037</tspan><tspan x="588" dy="4.427">GBC065</tspan><tspan x="588" dy="4.427">GBC157</tspan><tspan x="588" dy="4.427">GBC075</tspan><tspan x="588" dy="4.427">GBC068</tspan><tspan x="588" dy="4.427">GBC083</tspan><tspan x="588" dy="4.427">GBC163</tspan><tspan x="588" dy="4.427">GBC103</tspan><tspan x="588" dy="4.427">GBC122</tspan><tspan x="588" dy="4.427">GBC024</tspan><tspan x="588" dy="4.427">GBC095</tspan><tspan x="588" dy="4.427">GBC101</tspan><tspan x="588" dy="4.427">GBC171</tspan><tspan x="588" dy="4.427">GBC079</tspan><tspan x="588" dy="4.427">GBC121</tspan><tspan x="588" dy="4.427">GBC130</tspan><tspan x="588" dy="4.427">GBC011</tspan><tspan x="588" dy="4.427">GBC138</tspan><tspan x="588" dy="4.427">GBC006</tspan></text>

<!-- column labels -->
<g font-size="16.4" text-anchor="end">
<text transform="translate(95.1,594) rotate(-90)">B cells</text>
<text transform="translate(120.3,594) rotate(-90)">Macrophages M1</text>
<text transform="translate(145.5,594) rotate(-90)">CD8+ Tcm</text>
<text transform="translate(170.7,594) rotate(-90)">CD8+ T cells</text>
<text transform="translate(195.9,594) rotate(-90)">ly Endothelial cells</text>
<text transform="translate(221.1,594) rotate(-90)">mv Endothelial cells</text>
<text transform="translate(246.3,594) rotate(-90)">CD4+ T cells</text>
<text transform="translate(271.5,594) rotate(-90)">CD4+ memory T cells</text>
<text transform="translate(296.7,594) rotate(-90)">CD4+ Tem</text>
<text transform="translate(321.9,594) rotate(-90)">Macrophages M2</text>
<text transform="translate(347.1,594) rotate(-90)">Mast cells</text>
<text transform="translate(372.3,594) rotate(-90)">CD8+ Tem</text>
<text transform="translate(397.5,594) rotate(-90)">Pro-B cells</text>
<text transform="translate(422.7,594) rotate(-90)">NK cells</text>
<text transform="translate(447.9,594) rotate(-90)">CD8+naive T cells</text>
<text transform="translate(473.1,594) rotate(-90)">CD4+ Tcm</text>
<text transform="translate(498.3,594) rotate(-90)">Memory B cells</text>
<text transform="translate(523.5,594) rotate(-90)">Naive B cells</text>
<text transform="translate(548.7,594) rotate(-90)">CD4+ naive T cells</text>
<text transform="translate(573.9,594) rotate(-90)">Switched memory B cells</text>
</g>
<g font-size="16.2" text-anchor="end">
<text transform="translate(626.5,594) rotate(-90)">Origin</text>
<text transform="translate(648.6,594) rotate(-90)">Histology</text>
<text transform="translate(670.8,594) rotate(-90)">Stone</text>
<text transform="translate(692.9,594) rotate(-90)">Gender</text>
<text transform="translate(715.1,594) rotate(-90)">Age</text>
<text transform="translate(737.2,594) rotate(-90)">MutCount</text>
<text transform="translate(759.4,594) rotate(-90)">TILCluster</text>
<text transform="translate(781.5,594) rotate(-90)">Tumor_size</text>
<text transform="translate(803.7,594) rotate(-90)">PD−L1</text>
<text transform="translate(825.8,594) rotate(-90)">LAG−3</text>
<text transform="translate(848,594) rotate(-90)">TIM−3</text>
</g>

<!-- right legends -->
<g font-size="10">
<text x="859.8" y="51.6">Value</text>
<rect x="858.4" y="56.3" width="13.2" height="55" fill="url(#gVal)"/>
<path d="M858.4,60.7h3M868.6,60.7h3M858.4,72.9h3M868.6,72.9h3M858.4,85.1h3M868.6,85.1h3M858.4,97.2h3M868.6,97.2h3M858.4,109.4h3M868.6,109.4h3" stroke="#fff" stroke-width="1"/>
<text x="874.7" y="64.3">0.2</text><text x="874.7" y="76.5">0.15</text><text x="874.7" y="88.7">0.1</text><text x="874.7" y="100.8">0.05</text><text x="874.7" y="113">0</text>
<text x="859.8" y="125.1">Origin</text>
<rect x="859.8" y="131.4" width="9.9" height="8.6" fill="#17A03A"/><text x="874.7" y="139.3">India</text>
<rect x="859.8" y="142.6" width="9.9" height="8.6" fill="#CC3A33"/><text x="874.7" y="150.5">Chile</text>
<rect x="859.8" y="153.9" width="9.9" height="8.6" fill="#1F3461"/><text x="874.7" y="161.8">Korea</text>
<text x="859.8" y="175.3">Stone</text>
<rect x="859.8" y="181.9" width="9.9" height="8.6" fill="#502A27"/><text x="874.7" y="189.8">No</text>
<rect x="859.8" y="193.1" width="9.9" height="8.6" fill="#C63B1C"/><text x="874.7" y="201">Yes</text>
<text x="859.8" y="214.9">Gender</text>
<rect x="859.8" y="221.2" width="9.9" height="8.6" fill="#E3294B"/><text x="874.7" y="229.1">F</text>
<rect x="859.8" y="232.4" width="9.9" height="8.6" fill="#434A58"/><text x="874.7" y="240.3">M</text>
<text x="859.8" y="254.1">Age</text>
<rect x="859.8" y="260.4" width="9.9" height="8.6" fill="#4650A8"/><text x="874.7" y="268.3">100</text>
<rect x="859.8" y="271.6" width="9.9" height="8.6" fill="#6A5FB8"/><text x="874.7" y="279.5">75</text>
<rect x="859.8" y="282.9" width="9.9" height="8.6" fill="#BFB7E6"/><text x="874.7" y="290.8">50</text>
<text x="874.7" y="302">25</text>
<text x="859.8" y="314.9">MutCount</text>
<rect x="859.8" y="321.9" width="9.9" height="8.6" fill="#4650A8"/><text x="874.7" y="329.8">&gt;5000</text>
<rect x="859.8" y="333.2" width="9.9" height="8.6" fill="#5B56B3"/><text x="874.7" y="341.1">1000</text>
<rect x="859.8" y="344.4" width="9.9" height="8.6" fill="#8C82CE"/><text x="874.7" y="352.3">250</text>
<rect x="859.8" y="355.7" width="9.9" height="8.6" fill="#D6D1EF"/><text x="874.7" y="363.6">100</text>
<text x="874.7" y="374.8">0</text>
<text x="859.8" y="388.7">TILCluster</text>
<rect x="859.8" y="394.7" width="9.9" height="8.6" fill="#EE5A2A"/><text x="874.7" y="402.6">1</text>
<rect x="859.8" y="405.9" width="9.9" height="8.6" fill="#F3CC8E"/><text x="874.7" y="413.8">2</text>
<rect x="859.8" y="417.2" width="9.9" height="8.6" fill="#424DA6"/><text x="874.7" y="425.1">3</text>
<rect x="859.8" y="428.5" width="9.9" height="8.6" fill="#2E2646"/><text x="874.7" y="436.4">4</text>
<rect x="859.8" y="439.7" width="9.9" height="8.6" fill="#2E9E8F"/><text x="874.7" y="447.6">5</text>
<text x="859.8" y="461.4">Tumor_size</text>
<rect x="858.4" y="466.4" width="13.2" height="44.5" fill="url(#gTum)"/>
<path d="M858.4,469.8h3M868.6,469.8h3M858.4,482.2h3M868.6,482.2h3M858.4,494.6h3M868.6,494.6h3M858.4,507h3M868.6,507h3" stroke="#fff" stroke-width="1"/>
<text x="874.7" y="473.4">15</text><text x="874.7" y="485.8">10</text><text x="874.7" y="498.2">5</text><text x="874.7" y="510.6">0</text>
<text x="859.8" y="523.4">PD−L1</text>
<rect x="858.4" y="528.2" width="13.2" height="65.9" fill="url(#gPur)"/>
<path d="M858.4,531.8h3M868.6,531.8h3M858.4,543.8h3M868.6,543.8h3M858.4,555.9h3M868.6,555.9h3M858.4,567.9h3M868.6,567.9h3M858.4,580h3M868.6,580h3M858.4,592h3M868.6,592h3" stroke="#fff" stroke-width="1"/>
<text x="874.7" y="535.4">100</text><text x="874.7" y="547.4">80</text><text x="874.7" y="559.5">60</text><text x="874.7" y="571.5">40</text><text x="874.7" y="583.6">20</text><text x="874.7" y="595.6">0</text>
<text x="859.8" y="607.2">LAG−3</text>
<rect x="858.4" y="611.6" width="13.2" height="46.6" fill="url(#gPur)"/>
<path d="M858.4,615.6h3M868.6,615.6h3M858.4,628.1h3M868.6,628.1h3M858.4,640.5h3M868.6,640.5h3M858.4,653h3M868.6,653h3" stroke="#fff" stroke-width="1"/>
<text x="874.7" y="619.2">60</text><text x="874.7" y="631.7">40</text><text x="874.7" y="644.1">20</text><text x="874.7" y="656.6">0</text>
<text x="859.8" y="669.2">TIM−3</text>
<rect x="858.4" y="673.4" width="13.2" height="47.6" fill="url(#gPur)"/>
<path d="M858.4,677.3h3M868.6,677.3h3M858.4,690h3M868.6,690h3M858.4,702.6h3M868.6,702.6h3M858.4,715.3h3M868.6,715.3h3" stroke="#fff" stroke-width="1"/>
<text x="874.7" y="680.9">60</text><text x="874.7" y="693.6">40</text><text x="874.7" y="706.2">20</text><text x="874.7" y="718.9">0</text>
</g>

<!-- Histology legend -->
<text x="602.5" y="702.7" font-size="16.4">Histology:</text>
<g stroke-width="2.8">
<line x1="607.2" x2="622.9" y1="722.6" y2="722.6" stroke="#E0301E"/>
<line x1="607.2" x2="622.9" y1="752.7" y2="752.7" stroke="#8E2490"/>
<line x1="607.2" x2="622.9" y1="782" y2="782" stroke="#3E4AA6"/>
<line x1="607.2" x2="622.9" y1="810.8" y2="810.8" stroke="#5FA5A6"/>
<line x1="868.4" x2="884.1" y1="743.8" y2="743.8" stroke="#E52383"/>
<line x1="868.4" x2="884.1" y1="794.8" y2="794.8" stroke="#D4C80F"/>
</g>
<g font-size="17.6">
<text x="632.6" y="729.4">Adenocarcinoma</text>
<text x="632.6" y="756.9">Adenosquamous carcinoma</text>
<text x="632.6" y="787.8">Neuroendocrine</text>
<text x="632.6" y="814.8">Squamous carcinoma</text>
<text x="893.3" y="751.1">Sarcomatoid</text>
<text x="893.3" y="772.1">carcinoma</text>
<text x="893.3" y="799">Other</text>
</g>

<!-- ============ Panel b ============ -->
<g stroke="#000" fill="none">
<path d="M1110.8,148.4V539.1H1470.9" stroke-width="2.2"/>
<path d="M1105,520.7H1110.8M1105,415.8H1110.8M1105,310.9H1110.8M1105,206H1110.8M1151.9,539.1V545M1221.3,539.1V545M1290.7,539.1V545M1360.1,539.1V545M1429.5,539.1V545" stroke-width="1.6"/>
<path d="M1150.5,90.2H1219.3M1150.5,112.1H1289.1M1150.5,129.7H1356.5M1150.5,148.4H1428" stroke-width="0.8"/>
</g>
<g font-size="22.5" text-anchor="end">
<text x="1098" y="528.7">0.0</text><text x="1098" y="423.8">0.1</text><text x="1098" y="318.9">0.2</text><text x="1098" y="214">0.3</text>
</g>
<g font-size="22.5" text-anchor="middle">
<text x="1151.9" y="568.4">1</text><text x="1221.3" y="568.4">2</text><text x="1290.7" y="568.4">3</text><text x="1360.1" y="568.4">4</text><text x="1429.5" y="568.4">5</text>
<text x="1287.7" y="596.8">TIL cluster</text>
<text transform="translate(1053,343.8) rotate(-90)">CD8+ T cell score</text>
</g>
<g font-size="21" text-anchor="middle">
<text x="1184.7" y="95.7">***</text><text x="1219.6" y="117.6">***</text><text x="1253.5" y="135.2">*</text><text x="1288.7" y="153.9">**</text>
</g>
<g fill="none" stroke-width="2.2">
<g stroke="#EE5A2A"><path d="M1152.6,165.2V249.2M1152.6,371.1V453.9"/><rect x="1127.5" y="249.2" width="49.2" height="121.9"/><path d="M1127.5,300.8H1176.7" stroke-width="4"/></g>
<g stroke="#F3CC8E"><path d="M1221.4,445.3V485.5"/><rect x="1196.9" y="485.5" width="49.6" height="36"/><path d="M1196.9,515.6H1246.5" stroke-width="4"/></g>
<g stroke="#424DA6"><path d="M1290.5,410.1V464.8"/><rect x="1266.7" y="464.8" width="49.3" height="56.7"/><path d="M1266.7,487.1H1316" stroke-width="4"/></g>
<g stroke="#2E2646"><path d="M1359.9,421.8V428.9"/><rect x="1335.5" y="428.9" width="49.2" height="87.5"/><path d="M1335.5,436.7H1384.7" stroke-width="4"/></g>
<g stroke="#2E9E8F"><path d="M1429.7,319.5V387.9M1429.7,462.1V505.8"/><rect x="1404.6" y="387.9" width="49.6" height="74.2"/><path d="M1404.6,415.2H1454.2" stroke-width="4"/></g>
</g>
<g transform="translate(1020.7,0) scale(0.349,0.3906)">
<path class="pt" vector-effect="non-scaling-stroke" stroke="#EE5A2A" d="M378,423h.1M344,458h.1M380,613h.1M358,718h.1M398,746h.1M341,796h.1M392,877h.1M358,974h.1M392,1106h.1M389,1161h.1"/>
<path class="pt" vector-effect="non-scaling-stroke" stroke="#F3CC8E" d="M571,1100h.1M577,1103h.1M537,1142h.1M560,1145h.1M583,1122h.1M600,1137h.1M539,1195h.1M580,1190h.1M556,1210h.1M591,1217h.1M570,1240h.1M605,1243h.1M548,1258h.1M610,1250h.1M562,1272h.1M585,1275h.1M560,1280h.1M615,1285h.1M575,1300h.1M545,1310h.1M595,1305h.1M520,1325h.1M550,1330h.1M570,1333h.1M600,1330h.1M620,1330h.1M530,1335h.1M580,1335h.1M610,1320h.1M540,1320h.1M565,1315h.1M590,1320h.1"/>
<path class="pt" vector-effect="non-scaling-stroke" stroke="#424DA6" d="M790,963h.1M769,1050h.1M805,1120h.1M803,1128h.1M768,1133h.1M775,1150h.1M752,1155h.1M740,1188h.1M742,1195h.1M780,1210h.1M750,1225h.1M810,1230h.1M735,1243h.1M768,1245h.1M800,1255h.1M760,1260h.1M790,1272h.1M745,1295h.1M738,1298h.1M800,1310h.1M740,1333h.1M760,1333h.1M780,1333h.1M800,1333h.1M820,1333h.1M770,1333h.1"/>
<path class="pt" vector-effect="non-scaling-stroke" stroke="#2E2646" d="M992,1078h.1M934,1098h.1M982,1118h.1M935,1322h.1M964,1333h.1"/>
<path class="pt" vector-effect="non-scaling-stroke" stroke="#2E9E8F" d="M1155,816h.1M1148,985h.1M1200,972h.1M1205,978h.1M1160,1023h.1M1192,1043h.1M1168,1068h.1M1185,1067h.1M1210,1093h.1M1135,1147h.1M1210,1195h.1M1138,1238h.1M1196,1240h.1M1145,1297h.1"/>
</g>

<!-- ============ Panel c ============ -->
<g stroke="#000" fill="none">
<path d="M72.6,938.6V1329.5H436" stroke-width="2.2"/>
<path d="M66.8,1312.5H72.6M66.8,1232.5H72.6M66.8,1152.5H72.6M66.8,1072.5H72.6M66.8,992.5H72.6M114.5,1329.5V1335.4M184.2,1329.5V1335.4M253.9,1329.5V1335.4M323.6,1329.5V1335.4M393.3,1329.5V1335.4" stroke-width="1.6"/>
<path d="M111.4,881.5H181.8M111.4,903.1H252.8M111.4,940.4H394.3" stroke-width="0.8"/>
<path d="M111.4,921.2H321.6" stroke-width="1" stroke="#999"/>
</g>
<g font-size="22.5" text-anchor="end">
<text x="59.5" y="1320.5">0</text><text x="59.5" y="1240.5">10</text><text x="59.5" y="1160.5">20</text><text x="59.5" y="1080.5">30</text><text x="59.5" y="1000.5">40</text>
</g>
<g font-size="22.5" text-anchor="middle">
<text x="114.5" y="1358.5">1</text><text x="184.2" y="1358.5">2</text><text x="253.9" y="1358.5">3</text><text x="323.6" y="1358.5">4</text><text x="393.3" y="1358.5">5</text>
<text x="253.9" y="1388.2">TIL cluster</text>
<text transform="translate(18.2,1133.8) rotate(-90)">LAG−3 expression</text>
</g>
<g font-size="21" text-anchor="middle">
<text x="147" y="887">***</text><text x="182" y="908.6">*</text><text x="216.5" y="926.7">*</text><text x="252.8" y="945.9">*</text>
</g>
<g fill="none" stroke-width="2.2">
<g stroke="#EE5A2A"><path d="M114.7,1287.8V1301.1"/><rect x="90.2" y="1226.1" width="49.6" height="61.7"/><path d="M90.2,1276H139.8" stroke-width="4"/></g>
<g stroke="#F3CC8E"><path d="M184.7,1297.6V1299.7M184.7,1308.7V1311.5"/><rect x="160" y="1299.7" width="50.2" height="9"/><path d="M160,1304.5H210.2" stroke-width="4"/></g>
<g stroke="#424DA6"><path d="M254.2,1261V1281.2M254.2,1302.1V1311.5"/><rect x="229.7" y="1281.2" width="49.9" height="20.9"/><path d="M229.7,1291.3H279.6" stroke-width="4"/></g>
<g stroke="#2E2646"><rect x="299.4" y="1290.6" width="49.9" height="8.7"/><path d="M299.4,1293.7H349.3" stroke-width="4"/></g>
<g stroke="#2E9E8F"><path d="M394,1271.4V1287.8M394,1302.8V1308.7"/><rect x="369.2" y="1287.8" width="49.9" height="15"/><path d="M369.2,1294.8H419.1" stroke-width="4"/></g>
</g>
<g transform="translate(0,848) scale(0.3305,0.3485)">
<path class="pt" vector-effect="non-scaling-stroke" stroke="#EE5A2A" d="M335,310h.1M306,812h.1M315,1085h.1M347,1087h.1M348,1225h.1M325,1237h.1M360,1270h.1M308,1287h.1M347,1300h.1"/>
<path class="pt" vector-effect="non-scaling-stroke" stroke="#F3CC8E" d="M562,1100h.1M530,1185h.1M545,1265h.1M580,1268h.1M600,1270h.1M525,1280h.1M560,1283h.1M540,1295h.1M590,1295h.1M510,1305h.1M570,1308h.1M600,1310h.1M520,1318h.1M550,1325h.1M580,1327h.1M565,1330h.1M530,1328h.1M595,1325h.1M505,1312h.1M615,1300h.1M555,1298h.1M575,1290h.1"/>
<path class="pt" vector-effect="non-scaling-stroke" stroke="#424DA6" d="M764,405h.1M747,912h.1M762,1117h.1M796,1182h.1M774,1206h.1M737,1235h.1M798,1240h.1M780,1245h.1M755,1258h.1M720,1270h.1M790,1275h.1M770,1280h.1M745,1285h.1M808,1290h.1M730,1300h.1M760,1300h.1M800,1305h.1M735,1320h.1M758,1328h.1M802,1328h.1M780,1312h.1M750,1290h.1"/>
<path class="pt" vector-effect="non-scaling-stroke" stroke="#2E2646" d="M944,1272h.1M1020,1265h.1M975,1295h.1M1013,1302h.1M960,1283h.1M995,1280h.1"/>
<path class="pt" vector-effect="non-scaling-stroke" stroke="#2E9E8F" d="M1203,1188h.1M1213,1214h.1M1207,1246h.1M1175,1260h.1M1195,1270h.1M1160,1275h.1M1230,1280h.1M1185,1290h.1M1210,1300h.1M1240,1305h.1M1175,1322h.1M1150,1295h.1M1220,1310h.1"/>
</g>

<!-- ============ Panel d ============ -->
<g stroke="#000" fill="none">
<path d="M598.3,938.6V1329.6H959.8" stroke-width="2.2"/>
<path d="M592.5,1311.5H598.3M592.5,1188.2H598.3M592.5,1064.9H598.3M592.5,941.7H598.3M640.3,1329.6V1335.5M709.9,1329.6V1335.5M779.4,1329.6V1335.5M848.9,1329.6V1335.5M918.4,1329.6V1335.5" stroke-width="1.6"/>
<path d="M635.8,938.3H848.6M709.9,920.1H848.6M779.4,902.4H848.6M848.6,880.8H918.2" stroke-width="0.8"/>
</g>
<g font-size="22.5" text-anchor="end">
<text x="585.5" y="1319.5">0.0</text><text x="585.5" y="1196.2">0.1</text><text x="585.5" y="1072.9">0.2</text><text x="585.5" y="949.7">0.3</text>
</g>
<g font-size="22.5" text-anchor="middle">
<text x="640.3" y="1358.5">1</text><text x="709.9" y="1358.5">2</text><text x="779.4" y="1358.5">3</text><text x="848.9" y="1358.5">4</text><text x="918.4" y="1358.5">5</text>
<text x="779.4" y="1388.2">TIL cluster</text>
<text transform="translate(542.2,1133.8) rotate(-90)">mv endothelial cell score</text>
</g>
<g font-size="21" text-anchor="middle">
<text x="742.6" y="943.8">**</text><text x="779.4" y="925.6">***</text><text x="814.1" y="907.9">***</text><text x="883.6" y="886.3">***</text>
</g>
<g fill="none" stroke-width="2.2">
<g stroke="#EE5A2A"><path d="M640.3,1152.2V1194.4M640.3,1253V1311.5"/><rect x="615.6" y="1194.4" width="49.7" height="58.6"/><path d="M615.6,1233.8H665.3" stroke-width="4"/></g>
<g stroke="#F3CC8E"><path d="M709.9,1227.2V1263.8M709.9,1302.1V1311.5"/><rect x="685.2" y="1263.8" width="50" height="38.3"/><path d="M685.2,1286.4H735.2" stroke-width="4"/></g>
<g stroke="#424DA6"><path d="M779.4,1123.3V1194.4M779.4,1254V1293.4"/><rect x="754.4" y="1194.4" width="50" height="59.6"/><path d="M754.4,1222.6H804.4" stroke-width="4"/></g>
<g stroke="#2E2646"><path d="M848.6,1016.3V1037.9"/><rect x="824" y="957.1" width="49.9" height="59.2"/><path d="M824,1013.5H873.9" stroke-width="4"/></g>
<g stroke="#2E9E8F"><path d="M918.2,1112.9V1196.8M918.2,1294.4V1311.5"/><rect x="893.8" y="1196.8" width="49.4" height="97.6"/><path d="M893.8,1228.6H943.2" stroke-width="4"/></g>
</g>
<g transform="translate(518.2,848) scale(0.3205,0.3485)">
<path class="pt" vector-effect="non-scaling-stroke" stroke="#EE5A2A" d="M344,870h.1M396,906h.1M406,988h.1M392,1017h.1M360,1103h.1M390,1138h.1M372,1170h.1M393,1170h.1M408,1330h.1"/>
<path class="pt" vector-effect="non-scaling-stroke" stroke="#F3CC8E" d="M600,1088h.1M610,1120h.1M600,1132h.1M630,1155h.1M580,1160h.1M555,1168h.1M570,1190h.1M600,1192h.1M555,1222h.1M580,1235h.1M620,1250h.1M600,1255h.1M570,1260h.1M640,1260h.1M560,1280h.1M595,1280h.1M625,1285h.1M580,1300h.1M610,1305h.1M640,1300h.1M555,1330h.1M580,1330h.1M630,1330h.1M605,1325h.1"/>
<path class="pt" vector-effect="non-scaling-stroke" stroke="#424DA6" d="M808,790h.1M849,857h.1M795,862h.1M785,885h.1M798,905h.1M772,920h.1M770,925h.1M785,987h.1M842,1003h.1M825,1015h.1M805,1040h.1M835,1050h.1M845,1063h.1M820,1075h.1M788,1100h.1M858,1100h.1M795,1120h.1M845,1115h.1M790,1162h.1M840,1165h.1M830,1193h.1M800,1197h.1M775,1235h.1M830,1255h.1M780,1285h.1M825,1270h.1"/>
<path class="pt" vector-effect="non-scaling-stroke" stroke="#2E2646" d="M995,313h.1M1037,308h.1M1018,475h.1M997,547h.1"/>
<path class="pt" vector-effect="non-scaling-stroke" stroke="#2E9E8F" d="M1292,757h.1M1253,970h.1M1288,975h.1M1250,990h.1M1240,1033h.1M1208,1052h.1M1228,1085h.1M1210,1100h.1M1262,1177h.1M1285,1170h.1M1215,1318h.1M1225,1330h.1M1276,1315h.1"/>
</g>

<!-- ============ Panel e ============ -->
<g stroke="#000" fill="none">
<path d="M1111.3,898.5V1331.8H1568" stroke-width="2.2"/>
<path d="M1105.5,1311.9H1111.3M1105.5,1213.3H1111.3M1105.5,1114.6H1111.3M1105.5,1016H1111.3M1105.5,917.4H1111.3M1133.3,1331.8V1337.6M1236.6,1331.8V1337.6M1339.9,1331.8V1337.6M1443.1,1331.8V1337.6M1546.4,1331.8V1337.6" stroke-width="1.6"/>
</g>
<g font-size="22.5" text-anchor="end">
<text x="1099.6" y="1319.9">0.00</text><text x="1099.6" y="1221.3">0.25</text><text x="1099.6" y="1122.6">0.50</text><text x="1099.6" y="1024">0.75</text><text x="1099.6" y="925.4">1.00</text>
</g>
<g font-size="22.5" text-anchor="middle">
<text x="1133.3" y="1358.6">0</text><text x="1236.6" y="1358.6">20</text><text x="1339.9" y="1358.6">40</text><text x="1443.1" y="1358.6">60</text><text x="1546.4" y="1358.6">80</text>
<text x="1337.9" y="1388.2">Time (months)</text>
<text transform="translate(1043,1114.6) rotate(-90)">Fraction survival</text>
</g>
<g transform="translate(1133.3,1311.9) scale(5.164,-394.5)">
<path class="km" vector-effect="non-scaling-stroke" stroke="#7CAE00" d="M0,1H13.7V0.952H20.8V0.901H27.8V0.841H31.8V0.776H67.2"/>
<path class="kc" vector-effect="non-scaling-stroke" stroke="#7CAE00" d="M20,0.939V0.965M28,0.828V0.854M34,0.763V0.789M35,0.763V0.789M36,0.763V0.789M37,0.763V0.789M38,0.763V0.789M52,0.763V0.789M54,0.763V0.789M67,0.763V0.789"/>
<path class="km" vector-effect="non-scaling-stroke" stroke="#4FCDD0" d="M0,1H6.7V0.952H8.6V0.905H12.6V0.857H18.7V0.803H37.7V0.714H70.7"/>
<path class="kc" vector-effect="non-scaling-stroke" stroke="#4FCDD0" d="M15,0.844V0.87M17,0.844V0.87M19,0.79V0.816M20,0.79V0.816M26,0.79V0.816M27,0.79V0.816M34,0.79V0.816M38,0.701V0.727M52,0.701V0.727M55,0.701V0.727M63,0.701V0.727M66,0.701V0.727M67,0.701V0.727M70,0.701V0.727"/>
<path class="km" vector-effect="non-scaling-stroke" stroke="#C68AE8" d="M0,1H2.6V0.944H4.7V0.894H33.8V0.836H37.8V0.775H77.8"/>
<path class="kc" vector-effect="non-scaling-stroke" stroke="#C68AE8" d="M13,0.881V0.907M20,0.881V0.907M39,0.762V0.788M43,0.762V0.788M45,0.762V0.788M46,0.762V0.788M57,0.762V0.788M61,0.762V0.788M62,0.762V0.788M71,0.762V0.788M72,0.762V0.788M77,0.762V0.788"/>
<path class="km" vector-effect="non-scaling-stroke" stroke="#F8766D" d="M0,1H0.7V0.957H3.7V0.913H6.8V0.87H7.8V0.826H8.8V0.783H9.8V0.739H10.9V0.696H14.8V0.652H15.8V0.609H19.8V0.565H20.8V0.522H21.8V0.478H78.3"/>
<path class="kc" vector-effect="non-scaling-stroke" stroke="#F8766D" d="M29,0.465V0.491M30,0.465V0.491M31,0.465V0.491M32,0.465V0.491M34,0.465V0.491M55,0.465V0.491M67,0.465V0.491M68,0.465V0.491M74,0.465V0.491M77,0.465V0.491M78,0.465V0.491"/>
</g>
<g stroke-width="1.8">
<line x1="1127.2" x2="1141" y1="1230.3" y2="1230.3" stroke="#F8766D"/>
<line x1="1198.7" x2="1213.3" y1="1230.3" y2="1230.3" stroke="#7CAE00"/>
<line x1="1270.6" x2="1284.8" y1="1230.3" y2="1230.3" stroke="#4FCDD0"/>
<line x1="1342.1" x2="1356.3" y1="1230.3" y2="1230.3" stroke="#C68AE8"/>
</g>
<g font-size="22.5">
<text x="1149.9" y="1238.3">Q4</text><text x="1221.7" y="1238.3">Q3</text><text x="1293.3" y="1238.3">Q2</text><text x="1365.1" y="1238.3">Q1</text>
<text x="1135" y="1311.5"><tspan font-style="italic">P</tspan> = 0.024</text>
</g>
</svg>
</body></html>
